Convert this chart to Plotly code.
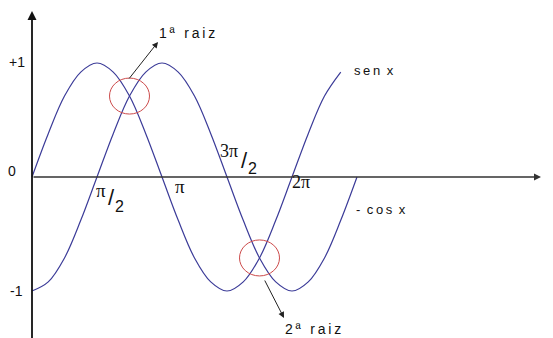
import plotly.graph_objects as go

# x values are in multiples of pi, every pi/8
sen_x = [0, 0.125, 0.25, 0.375, 0.5, 0.625, 0.75, 0.875, 1, 1.125, 1.25, 1.375,
         1.5, 1.625, 1.75, 1.875, 2, 2.125, 2.25, 2.375]
sen_y = [0, 0.38, 0.71, 0.92, 1, 0.92, 0.71, 0.38, 0, -0.38, -0.71, -0.92,
         -1, -0.92, -0.71, -0.38, 0, 0.38, 0.71, 0.92]
cos_x = [0, 0.125, 0.25, 0.375, 0.5, 0.625, 0.75, 0.875, 1, 1.125, 1.25, 1.375,
         1.5, 1.625, 1.75, 1.875, 2, 2.125, 2.25, 2.375, 2.5]
cos_y = [-1, -0.92, -0.71, -0.38, 0, 0.38, 0.71, 0.92, 1, 0.92, 0.71, 0.38,
         0, -0.38, -0.71, -0.92, -1, -0.92, -0.71, -0.38, 0]
root_x = [0.75, 1.75]
root_y = [0.71, -0.71]
root_labels = ["1ª raiz", "2ª raiz"]
y_ticks = [1, 0, -1]
y_tick_text = ["+1", "0", "-1"]

W, H = 553, 338
PAGE = 8           # the page body margin shifts the figure by this much
X0, SX = 32, 130   # page pixel of x=0, pixels per pi
Y0, SY = 177, 114  # page pixel of y=0, pixels per unit


def px(p):
    return (p - X0) / SX


def py(p):
    return (Y0 - p) / SY


def spaced(s):
    # the original lettering is loosely spaced
    return "\u2009".join(s)


BLUE = "#3b3b98"
RED = "#cc4a4a"
SANS = "Liberation Sans, Arial, sans-serif"
SERIF = "Liberation Serif, Times New Roman, serif"
GAP = "\u2002"

fig = go.Figure()
fig.add_trace(go.Scatter(x=sen_x, y=sen_y, mode="lines", line_shape="spline",
                         line=dict(color=BLUE, width=1.2), hoverinfo="skip"))
fig.add_trace(go.Scatter(x=cos_x, y=cos_y, mode="lines", line_shape="spline",
                         line=dict(color=BLUE, width=1.2), hoverinfo="skip"))

# red circles around the roots
for rx, ry in zip(root_x, root_y):
    fig.add_shape(type="circle", xref="x", yref="y",
                  x0=rx - 20 / SX, x1=rx + 20 / SX,
                  y0=ry - 18 / SY, y1=ry + 18 / SY,
                  line=dict(color=RED, width=1))

ann = []
# axes with arrows
ann.append(dict(x=0, y=py(11), ax=0, ay=py(340), xref="x", yref="y",
                axref="x", ayref="y", text="", showarrow=True, arrowhead=2,
                arrowsize=1, arrowwidth=1.8, arrowcolor="#111"))
ann.append(dict(x=px(541), y=0, ax=0, ay=0, xref="x", yref="y",
                axref="x", ayref="y", text="", showarrow=True, arrowhead=2,
                arrowsize=1, arrowwidth=1.4, arrowcolor="#333"))

# root arrows and labels
ann.append(dict(x=px(158), y=py(42), ax=px(128), ay=py(80), xref="x", yref="y",
                axref="x", ayref="y", text="", showarrow=True, arrowhead=2,
                arrowsize=1.2, arrowwidth=1, arrowcolor="#222"))
ann.append(dict(x=px(284), y=py(318), ax=px(264), ay=py(279), xref="x", yref="y",
                axref="x", ayref="y", text="", showarrow=True, arrowhead=2,
                arrowsize=1.2, arrowwidth=1, arrowcolor="#222"))
for lbl, (lx, ly) in zip(root_labels, [(157, 33), (283, 329)]):
    ann.append(dict(x=px(lx), y=py(ly), text=spaced(lbl), showarrow=False,
                    xanchor="left", yanchor="middle",
                    font=dict(family=SANS, size=14, color="#111")))

# curve labels
ann.append(dict(x=px(352), y=py(70), text=spaced("sen") + GAP + "x", showarrow=False,
                xanchor="left", font=dict(family=SANS, size=13, color="#111")))
ann.append(dict(x=px(354), y=py(209), text="-" + GAP + spaced("cos") + GAP + "x",
                showarrow=False, xanchor="left",
                font=dict(family=SANS, size=13, color="#111")))
ann.append(dict(x=px(548), y=py(184), text="x", showarrow=False,
                font=dict(family=SANS, size=13, color="#333")))

# y tick labels
for yv, yt, (lx, ly) in zip(y_ticks, y_tick_text, [(17, 62), (12, 171), (16, 291)]):
    ann.append(dict(x=px(lx), y=py(ly), text=yt, showarrow=False,
                    font=dict(family=SANS, size=14, color="#111")))


# pi tick labels
def lab(text, cx, cy, fam, size):
    ann.append(dict(x=px(cx), y=py(cy), text=text, showarrow=False,
                    font=dict(family=fam, size=size, color="#111")))


lab("π", 101, 190, SERIF, 19)
lab("/", 111, 197, SANS, 22)
lab("2", 119, 206, SANS, 16)
lab("π", 180, 186, SERIF, 19)
lab("3π", 229, 151, SERIF, 18)
lab("/", 244, 160, SANS, 22)
lab("2", 252, 168, SANS, 16)
lab("2π", 301, 182, SERIF, 18)

fig.update_layout(
    width=W, height=H,
    margin=dict(l=0, r=0, t=0, b=0),
    paper_bgcolor="white", plot_bgcolor="white",
    showlegend=False,
    annotations=ann,
    xaxis=dict(range=[px(PAGE), px(W + PAGE)], visible=False, fixedrange=True),
    yaxis=dict(range=[py(H + PAGE), py(PAGE)], visible=False, fixedrange=True),
)

fig.write_html("out.html")
